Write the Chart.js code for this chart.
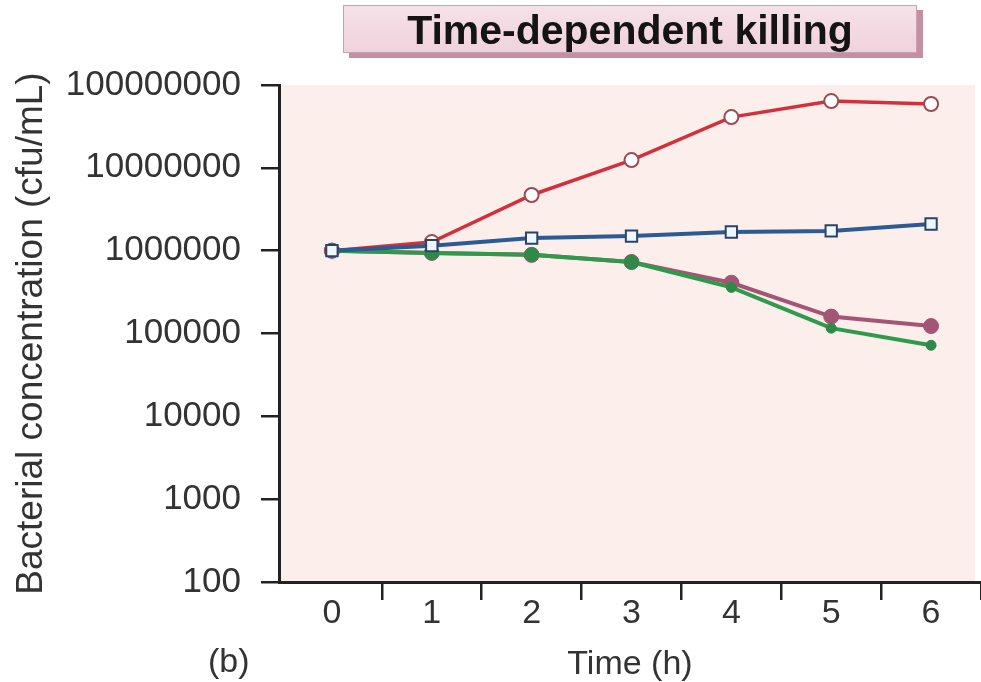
<!DOCTYPE html>
<html>
<head>
<meta charset="utf-8">
<script src="https://cdn.jsdelivr.net/npm/chart.js@4.4.0/dist/chart.umd.min.js"></script>
<style>
  html, body { margin: 0; padding: 0; background: #fff; }
  #wrap { position: relative; width: 981px; height: 682px; font-family: "Liberation Sans", Arial, sans-serif; }
  #titleBox {
    position: absolute; left: 343px; top: 5px; width: 572px; height: 46px;
    background: linear-gradient(#f6e1e8, #f0d2dc); border: 1px solid #c9a2b1; box-shadow: 6px 5px 0 #c48fa3;
    text-align: center; font-weight: bold; font-size: 41px; line-height: 48px; color: #141414;
  }
  #panel { position: absolute; left: 208px; top: 640px; font-size: 34px; line-height: 40px; color: #333; }
  canvas { position: absolute; left: 0; top: 0; }
</style>
</head>
<body>
<div id="wrap">
  <canvas id="myChart" width="981" height="682"></canvas>
  <div id="titleBox">Time-dependent killing</div>
  <div id="panel">(b)</div>
</div>
<script>
// hours on the x axis and their labels
const hours = [0, 1, 2, 3, 4, 5, 6];
const xLabels = ['0', '1', '2', '3', '4', '5', '6'];
// log axis ticks
const yTicks = [100, 1000, 10000, 100000, 1000000, 10000000, 100000000];

// cfu/mL
const growthControl = [1000000, 1270000, 4700000, 12400000, 41000000, 64000000, 59000000];
const bacteriostatic = [1000000, 1150000, 1420000, 1500000, 1680000, 1730000, 2100000];
const killingA = [1000000, 940000, 890000, 730000, 410000, 160000, 123000];
const killingB = [1000000, 940000, 890000, 730000, 360000, 116000, 72000];

const ink = '#222';
const fontFam = '"Liberation Sans", Arial, sans-serif';

function toPoints(vals) {
  return hours.map((h, i) => ({ x: h, y: vals[i] }));
}

// pale pink plot background
const plotBg = {
  id: 'plotBg',
  beforeDraw(chart) {
    const { ctx, chartArea: a } = chart;
    ctx.save();
    ctx.fillStyle = '#fcefeb';
    ctx.fillRect(a.left, a.top, a.right - a.left - 6, a.bottom - a.top);
    ctx.restore();
  }
};

const config = {
  type: 'line',
  data: {
    datasets: [
      {
        label: 'Bacteriostatic',
        data: toPoints(bacteriostatic),
        borderColor: '#2c5a94', borderWidth: 4,
        pointStyle: 'rect', pointRadius: 8,
        pointBackgroundColor: '#eef8fc', pointBorderColor: '#2b4466', pointBorderWidth: 2,
        order: 0
      },
      {
        label: 'Growth control',
        data: toPoints(growthControl),
        borderColor: '#d3303c', borderWidth: 3.5,
        pointRadius: 7,
        pointBackgroundColor: '#ffffff', pointBorderColor: '#9c4a55', pointBorderWidth: 2,
        order: 1
      },
      {
        label: 'Killing B',
        data: toPoints(killingB),
        borderColor: '#2f9a4c', borderWidth: 4,
        pointRadius: [7, 7, 7, 7, 5, 5, 5],
        pointBackgroundColor: '#2f8a48', pointBorderColor: '#2f8a48', pointBorderWidth: 1,
        order: 2
      },
      {
        label: 'Killing A',
        data: toPoints(killingA),
        borderColor: '#a35576', borderWidth: 4,
        pointRadius: 7.5,
        pointBackgroundColor: '#a35576', pointBorderColor: '#a35576', pointBorderWidth: 1,
        order: 3
      }
    ]
  },
  options: {
    responsive: false,
    animation: false,
    layout: { autoPadding: false, padding: { top: 85, right: 0, left: 0, bottom: 0 } },
    plugins: { legend: { display: false }, tooltip: { enabled: false } },
    scales: {
      x: {
        type: 'linear',
        min: -0.53, max: 6.5,
        afterBuildTicks: (scale) => {
          scale.ticks = hours.flatMap((h) => [{ value: h }, { value: h + 0.5 }]);
        },
        afterFit: (scale) => { scale.height = 100; },
        ticks: {
          autoSkip: false, maxRotation: 0, padding: -3,
          color: '#333', font: { family: fontFam, size: 34, lineHeight: 1 },
          callback: (v) => (Number.isInteger(v) ? xLabels[v] : '')
        },
        grid: {
          drawOnChartArea: false, drawTicks: true, tickLength: 18, lineWidth: 2.5,
          color: (c) => (c.tick && Number.isInteger(c.tick.value) ? 'rgba(0,0,0,0)' : ink)
        },
        border: { color: ink, width: 3 },
        title: {
          display: true, text: 'Time (h)', color: '#333',
          font: { family: fontFam, size: 34, lineHeight: 1 }, padding: { top: 8, bottom: 0 }
        }
      },
      y: {
        type: 'logarithmic',
        min: 100, max: 100000000,
        afterBuildTicks: (scale) => {
          scale.ticks = yTicks.map((v) => ({ value: v }));
        },
        afterFit: (scale) => { scale.width = 279; },
        ticks: {
          padding: 20, color: '#333',
          font: { family: fontFam, size: 35 },
          callback: (v) => String(v)
        },
        grid: { drawOnChartArea: false, drawTicks: true, tickLength: 18, lineWidth: 2.5, color: ink },
        border: { color: ink, width: 3 },
        title: {
          display: true, text: 'Bacterial concentration (cfu/mL)', color: '#333',
          font: { family: fontFam, size: 37, lineHeight: 1.2 }, padding: { top: 10, bottom: 0 }
        }
      }
    }
  },
  plugins: [plotBg]
};

new Chart(document.getElementById('myChart'), config);
</script>
</body>
</html>
